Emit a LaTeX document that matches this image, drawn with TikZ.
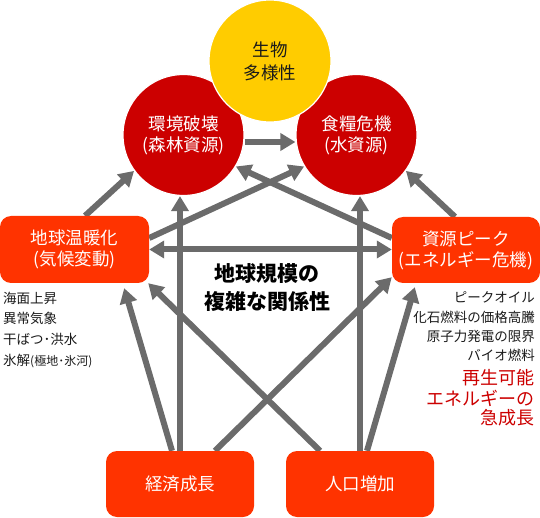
\documentclass[tikz,border=0pt]{standalone}
\usepackage{fontspec}
\setmainfont{Noto Sans CJK JP}
\usetikzlibrary{arrows.meta,calc}
\pgfdeclarelayer{bg}
\pgfsetlayers{bg,main}
\definecolor{boxred}{HTML}{FF3300}
\definecolor{circred}{HTML}{CC0000}
\definecolor{bioyel}{HTML}{FFCC00}
\definecolor{arrgray}{HTML}{6B6B6B}
\definecolor{txtred}{HTML}{CC0000}
\definecolor{txtdark}{HTML}{1A1A1A}
\begin{document}
\begin{tikzpicture}[x=1pt,y=-1pt,
  circ/.style={circle,draw=white,line width=1.2pt,minimum size=121pt,inner sep=0pt,align=center,font=\fontsize{17.5}{21}\selectfont},
  rbox/.style={rectangle,rounded corners=11pt,fill=boxred,minimum width=148pt,minimum height=66pt,inner sep=0pt,text=white,align=center,font=\fontsize{17.5}{21}\selectfont},
  arr/.style={draw=arrgray,line width=6pt,-{Triangle[length=15pt,width=17pt]}},
  arrboth/.style={draw=arrgray,line width=6pt,{Triangle[length=15pt,width=17pt]}-{Triangle[length=15pt,width=17pt]}},
  listtxt/.style={font=\fontsize{13.5}{13.5}\selectfont,text=txtdark,inner sep=0pt},
  redtxt/.style={font=\fontsize{18}{18}\selectfont,text=txtred,inner sep=0pt}
]
\useasboundingbox (0,0) rectangle (540,518);
% circles
\node[circ,fill=circred,text=white] (env) at (183.5,135) {環境破壊\\(森林資源)};
\node[circ,fill=circred,text=white] (food) at (356.5,135) {食糧危機\\(水資源)};
\node[circ,fill=bioyel,text=txtdark,minimum size=122pt,font=\fontsize{17.5}{23}\selectfont] (bio) at (270,61) {生物\\多様性};
% boxes
\node[rbox,minimum width=149pt,minimum height=67pt] (gw) at (74.5,249.5) {地球温暖化\\(気候変動)};
\node[rbox] (res) at (466,250) {資源ピーク\\(エネルギー危機)};
\node[rbox] (econ) at (180,484) {経済成長};
\node[rbox] (pop) at (360,484) {人口増加};
% center text
\node[font=\bfseries\fontsize{21}{28}\selectfont,align=center,text=black] (ctr) at (267,288) {地球規模の\\複雑な関係性};
% left list
\node[listtxt,anchor=west] (l1) at (3,298) {海面上昇};
\node[listtxt,anchor=west] (l2) at (3,318) {異常気象};
\node[listtxt,anchor=west] (l3) at (3,339) {干ばつ･洪水};
\node[listtxt,anchor=west] (l4) at (3,361) {氷解{\fontsize{12}{12}\selectfont(極地･氷河)}};
% right list
\node[listtxt,anchor=east] (r1) at (535,297) {ピークオイル};
\node[listtxt,anchor=east] (r2) at (535,317) {化石燃料の価格高騰};
\node[listtxt,anchor=east] (r3) at (535,336) {原子力発電の限界};
\node[listtxt,anchor=east] (r4) at (535,355) {バイオ燃料};
\node[redtxt,anchor=east] (r5) at (535,378) {再生可能};
\node[redtxt,anchor=east] (r6) at (535,398) {エネルギーの};
\node[redtxt,anchor=east] (r7) at (535,418) {急成長};
% arrows
\begin{pgfonlayer}{bg}
\draw[arr] ([yshift=-7pt]env.east) -- ([yshift=-7pt]food.west);
\draw[arr] ([xshift=10.5pt]gw.north) -- (env.216);
\draw[arr] ([xshift=-11pt]res.north) -- (food.324);
\draw[arrboth] (gw.east) -- (gw.east -| res.west);
\draw[arr] ([yshift=11.5pt]gw.east) -- (food.211);
\draw[arr] ([yshift=12pt]res.west) -- (env.329);
\draw[arr] (econ.north) -- (econ.north |- env.south);
\draw[arr] (pop.north) -- (pop.north |- food.south);
\draw[arr] ([xshift=-8pt]econ.north) -- ([xshift=-25pt,yshift=-5pt]gw.south east);
\draw[arr] ([xshift=35pt]econ.north) -- ([yshift=6pt]res.south west);
\draw[arr] ([xshift=-40pt]pop.north) -- ([xshift=-1pt]gw.south east);
\draw[arr] ([xshift=7pt]pop.north) -- ([xshift=23pt,yshift=-4pt]res.south west);
\end{pgfonlayer}
\end{tikzpicture}
\end{document}
